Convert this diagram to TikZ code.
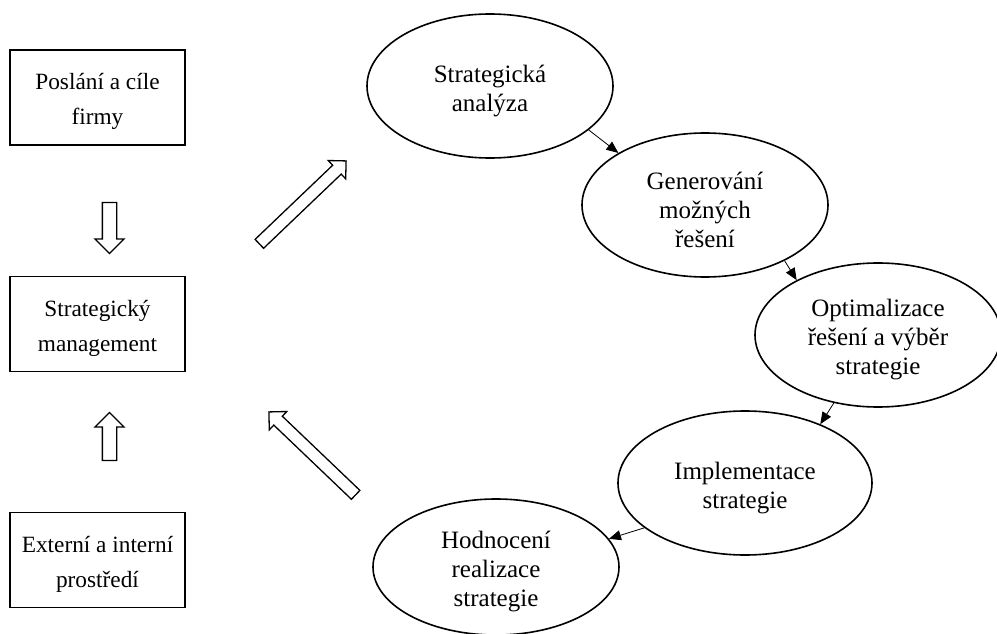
\documentclass[tikz,border=0pt]{standalone}
\usepackage{fontspec}
\setmainfont{Liberation Serif}
\usetikzlibrary{shapes.geometric,shapes.arrows,arrows.meta}
\begin{document}
\begin{tikzpicture}[x=1pt,y=-1pt,
  boxtext/.style={align=center,inner sep=0pt,font=\fontsize{23.3}{35}\selectfont,yshift=-4pt},
  boxnode/.style={draw,line width=1.3pt,minimum width=175pt,minimum height=95pt,inner sep=0pt},
  elltext/.style={align=center,inner sep=0pt,font=\fontsize{25}{29}\selectfont,yshift=-5pt},
  ellnode/.style={draw,ellipse,line width=1.6pt,minimum width=246pt,minimum height=144pt,inner sep=0pt},
  blockarrow/.style={draw,single arrow,line width=1.3pt,inner xsep=0pt,single arrow head indent=0pt},
  smallarrow/.style={line width=0.8pt,-{Triangle[length=12pt,width=10pt]}}
]
\useasboundingbox (0,0) rectangle (997,634);
\node[boxnode,label={[boxtext]center:Poslání a cíle\\firmy}] (b1) at (97.5,97.5) {};
\node[boxnode,label={[boxtext]center:Strategický\\management}] (b2) at (97.5,324) {};
\node[boxnode,label={[boxtext]center:Externí a interní\\prostředí}] (b3) at (97.5,560) {};

\node[blockarrow,rotate=-90,minimum height=51pt,inner ysep=6.5pt,single arrow head extend=7.5pt] (va1) at (109.5,224.5) {};
\node[blockarrow,rotate=90,minimum height=48pt,inner ysep=6.5pt,single arrow head extend=7.5pt] (va2) at (109.5,440) {};
\node[blockarrow,rotate=43.7,minimum height=120pt,inner ysep=5.5pt,single arrow head extend=6.5pt] (da1) at (300.5,204.5) {};
\node[blockarrow,rotate=136.3,minimum height=120pt,inner ysep=5.5pt,single arrow head extend=6.5pt] (da2) at (314.5,455.5) {};

\node[ellnode,label={[elltext]center:Strategická\\analýza}] (e1) at (490,86) {};
\node[ellnode,label={[elltext]center:Generování\\možných\\řešení}] (e2) at (705,205) {};
\node[ellnode,label={[elltext]center:Optimalizace\\řešení a výběr\\strategie}] (e3) at (878,335) {};
\node[ellnode,minimum width=254pt,label={[elltext]center:Implementace\\strategie}] (e4) at (745,483) {};
\node[ellnode,minimum height=136pt,label={[elltext]center:Hodnocení\\realizace\\strategie}] (e5) at (496,567) {};

\draw[smallarrow] (e1.-24.5) -- (e2.149.4);
\draw[smallarrow] (e2.-35.8) -- (e3.146);
\draw[smallarrow] (e3.-123.3) -- (e4.38.9);
\draw[smallarrow] (e4.-156.8) -- (e5.14.7);
\end{tikzpicture}
\end{document}
